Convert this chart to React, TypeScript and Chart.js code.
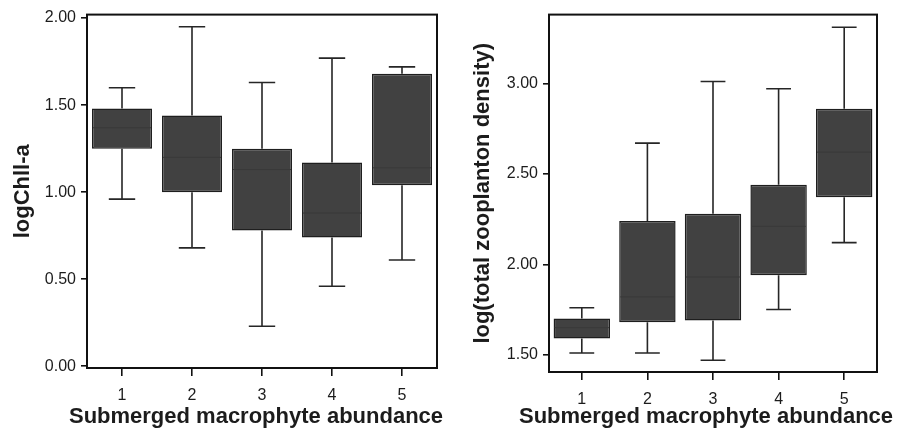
import React, { useEffect, useRef } from "react";
import { Chart, registerables } from "chart.js";

Chart.register(...registerables);

const categories = ["1", "2", "3", "4", "5"];
const xTitle = "Submerged macrophyte abundance";

// Left panel: logChll-a
const chlMin = [0.96, 0.68, 0.23, 0.46, 0.61];
const chlQ1 = [1.25, 1.0, 0.78, 0.74, 1.04];
const chlMedian = [1.37, 1.2, 1.13, 0.88, 1.14];
const chlQ3 = [1.48, 1.44, 1.25, 1.17, 1.68];
const chlMax = [1.6, 1.95, 1.63, 1.77, 1.72];
const chlTicks = [0, 0.5, 1, 1.5, 2];

// Right panel: log(total zooplanton density)
const zooMin = [1.51, 1.51, 1.47, 1.75, 2.12];
const zooQ1 = [1.59, 1.68, 1.69, 1.94, 2.37];
const zooMedian = [1.65, 1.82, 1.93, 2.21, 2.62];
const zooQ3 = [1.7, 2.24, 2.28, 2.44, 2.86];
const zooMax = [1.76, 2.67, 3.01, 2.97, 3.31];
const zooTicks = [1.5, 2, 2.5, 3];

const FONT = "'Liberation Sans', Arial, Helvetica, sans-serif";
const TEXT = "#1c1c1c";

const boxPlugin = {
  id: "boxWhiskers",
  afterDatasetsDraw(chart: any, _args: any, opts: any) {
    const { ctx, scales } = chart;
    const x = scales.x;
    const y = scales.y;
    const meta = chart.getDatasetMeta(0);
    ctx.save();
    opts.min.forEach((mn: number, i: number) => {
      const bar: any = meta.data[i];
      const cx = x.getPixelForValue(i);
      const w = bar.width;
      const cap = w * opts.capRatio;
      const yMin = y.getPixelForValue(mn);
      const yMax = y.getPixelForValue(opts.max[i]);
      const yQ1 = y.getPixelForValue(opts.q1[i]);
      const yQ3 = y.getPixelForValue(opts.q3[i]);
      const yMed = y.getPixelForValue(opts.median[i]);
      ctx.strokeStyle = "#262626";
      ctx.lineWidth = 1.6;
      ctx.beginPath();
      ctx.moveTo(cx, yQ3);
      ctx.lineTo(cx, yMax);
      ctx.moveTo(cx - cap / 2, yMax);
      ctx.lineTo(cx + cap / 2, yMax);
      ctx.moveTo(cx, yQ1);
      ctx.lineTo(cx, yMin);
      ctx.moveTo(cx - cap / 2, yMin);
      ctx.lineTo(cx + cap / 2, yMin);
      ctx.stroke();
      ctx.strokeStyle = "#393939";
      ctx.lineWidth = 1;
      ctx.beginPath();
      ctx.moveTo(cx - w / 2 + 1, yMed);
      ctx.lineTo(cx + w / 2 - 1, yMed);
      ctx.stroke();
    });
    const a = chart.chartArea;
    ctx.strokeStyle = "#111";
    ctx.lineWidth = 2;
    ctx.strokeRect(a.left, a.top, a.right - a.left, a.bottom - a.top);
    // x-axis title (drawn here so it may extend past the axis width)
    ctx.fillStyle = TEXT;
    ctx.font = `bold 22px ${FONT}`;
    ctx.textAlign = "center";
    ctx.textBaseline = "alphabetic";
    ctx.fillText(opts.xTitle, opts.xTitleX, opts.xTitleY);
    ctx.restore();
  },
};

function makeConfig(p: {
  q1: number[];
  q3: number[];
  min: number[];
  max: number[];
  median: number[];
  ticks: number[];
  yMin: number;
  yMax: number;
  yTitle: string;
  yTitlePad: number;
  yWidth: number;
  xHeight: number;
  padRight: number;
  barPct: number;
  xTitleX: number;
}): any {
  return {
    type: "bar",
    data: {
      labels: categories,
      datasets: [
        {
          data: p.q1.map((q, i) => [q, p.q3[i]]),
          backgroundColor: "#414141",
          borderColor: "#1e1e1e",
          borderWidth: 1.5,
          borderSkipped: false,
          barPercentage: p.barPct,
          categoryPercentage: 1,
        },
      ],
    },
    options: {
      animation: false,
      responsive: false,
      events: [],
      layout: { padding: { top: 11, right: p.padRight, left: 0, bottom: 0 } },
      plugins: {
        legend: { display: false },
        tooltip: { enabled: false },
        boxWhiskers: {
          min: p.min,
          max: p.max,
          q1: p.q1,
          q3: p.q3,
          median: p.median,
          capRatio: 0.44,
          xTitle: xTitle,
          xTitleX: p.xTitleX,
          xTitleY: 423,
        },
      },
      scales: {
        x: {
          grid: {
            drawOnChartArea: false,
            drawTicks: true,
            tickLength: 8,
            color: "#111",
            lineWidth: 1.6,
            offset: false,
          },
          border: { display: false },
          ticks: { font: { family: FONT, size: 16 }, color: TEXT, padding: 10 },
          title: { display: false },
          afterFit: (s: any) => {
            s.height = p.xHeight;
          },
        },
        y: {
          min: p.yMin,
          max: p.yMax,
          afterBuildTicks: (s: any) => {
            s.ticks = p.ticks.map((v) => ({ value: v }));
          },
          grid: {
            drawOnChartArea: false,
            drawTicks: true,
            tickLength: 6,
            color: "#111",
            lineWidth: 1.6,
          },
          border: { display: false },
          ticks: {
            font: { family: FONT, size: 16 },
            color: TEXT,
            padding: 5,
            callback: (v: any) => Number(v).toFixed(2),
          },
          title: {
            display: true,
            text: p.yTitle,
            font: { family: FONT, size: 22, weight: "bold" },
            color: TEXT,
            padding: { top: p.yTitlePad, bottom: 0 },
          },
          afterFit: (s: any) => {
            s.width = p.yWidth;
          },
        },
      },
    },
    plugins: [boxPlugin],
  };
}

function BoxChart(props: { config: any; width: number; height: number; left: number }) {
  const ref = useRef<HTMLCanvasElement | null>(null);
  useEffect(() => {
    if (!ref.current) return;
    const chart = new Chart(ref.current, props.config);
    return () => chart.destroy();
  }, []);
  return (
    <canvas
      ref={ref}
      width={props.width}
      height={props.height}
      style={{
        position: "absolute",
        left: props.left,
        top: 0,
        width: props.width,
        height: props.height,
        display: "block",
      }}
    />
  );
}

export default function App() {
  const leftConfig = makeConfig({
    q1: chlQ1,
    q3: chlQ3,
    min: chlMin,
    max: chlMax,
    median: chlMedian,
    ticks: chlTicks,
    yMin: -0.01,
    yMax: 2.02,
    yTitle: "logChll-a",
    yTitlePad: 10,
    yWidth: 87,
    xHeight: 63,
    padRight: 15,
    barPct: 0.857,
    xTitleX: 256,
  });
  const rightConfig = makeConfig({
    q1: zooQ1,
    q3: zooQ3,
    min: zooMin,
    max: zooMax,
    median: zooMedian,
    ticks: zooTicks,
    yMin: 1.405,
    yMax: 3.38,
    yTitle: "log(total zooplanton density)",
    yTitlePad: 18,
    yWidth: 97,
    xHeight: 59,
    padRight: 28,
    barPct: 0.86,
    xTitleX: 254,
  });
  return (
    <div
      style={{
        position: "absolute",
        left: 0,
        top: 0,
        width: 905,
        height: 431,
        background: "#fff",
        overflow: "hidden",
      }}
    >
      <BoxChart config={leftConfig} width={452} height={431} left={0} />
      <BoxChart config={rightConfig} width={453} height={431} left={452} />
    </div>
  );
}
